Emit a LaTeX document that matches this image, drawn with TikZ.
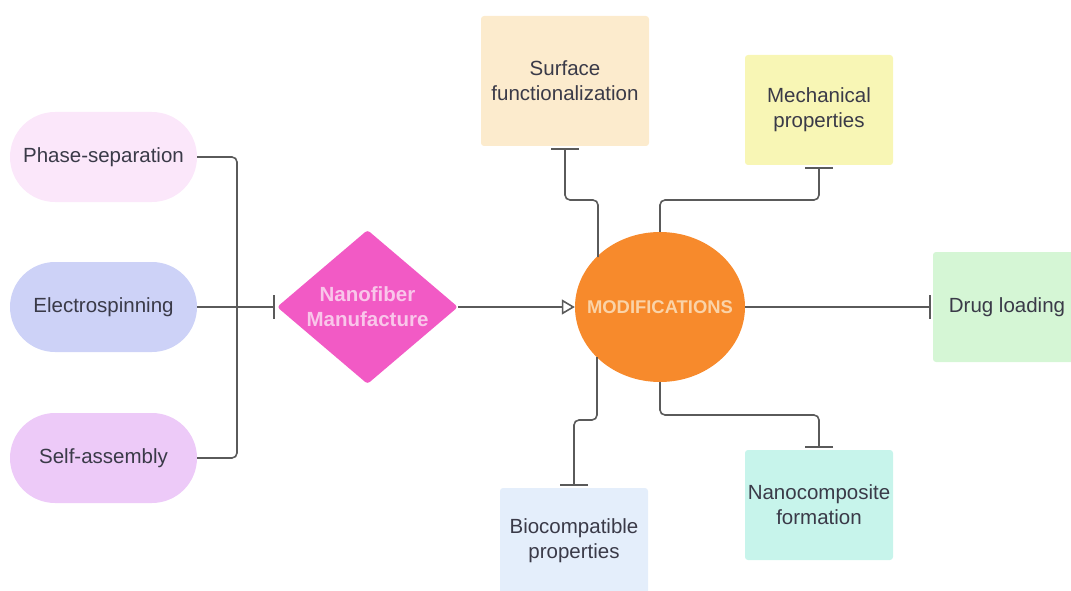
\documentclass[tikz,border=0pt]{standalone}
\usepackage{fontspec}
\setmainfont{Liberation Sans}
\usetikzlibrary{shapes.geometric,arrows.meta,calc}
\definecolor{txtc}{HTML}{3A3A48}
\definecolor{linec}{HTML}{5A5A5A}
\definecolor{pillA}{HTML}{FBE7FA}
\definecolor{pillB}{HTML}{CDD2F7}
\definecolor{pillC}{HTML}{EDCAF8}
\definecolor{pinkd}{HTML}{F25AC5}
\definecolor{pinkt}{HTML}{F9C6EA}
\definecolor{orng}{HTML}{F78A2C}
\definecolor{orngt}{HTML}{FAD3A8}
\definecolor{surfc}{HTML}{FCEBCD}
\definecolor{mechc}{HTML}{F8F6B5}
\definecolor{drugc}{HTML}{D5F6D5}
\definecolor{bioc}{HTML}{E4EEFB}
\definecolor{nanoc}{HTML}{C7F4EB}
\begin{document}
\begin{tikzpicture}[x=1pt,y=-1pt,
  txt/.style={text=txtc, font=\fontsize{20.5}{25}\selectfont, align=center},
  pill/.style={txt, rounded corners=45pt, minimum width=187pt, minimum height=90pt, inner sep=0pt},
  box/.style={txt, rounded corners=3pt, minimum width=148pt, minimum height=110pt, inner sep=0pt},
  conn/.style={draw=linec, line width=1.6pt},
  tee/.style={conn, -{Bar[width=28pt]}, shorten >=2pt},
  tri/.style={conn, -{Triangle[open, length=13pt, width=15pt]}}]
\useasboundingbox (0,0) rectangle (1071,591);

% left pills
\node[pill, fill=pillA] (p1) at (103.5,157) {Phase-separation};
\node[pill, fill=pillB] (p2) at (103.5,307) {Electrospinning};
\node[pill, fill=pillC] (p3) at (103.5,458) {Self-assembly};

% diamond
\node[diamond, fill=pinkd, aspect=1.175, minimum width=181pt, minimum height=154pt,
      inner sep=0pt, text=pinkt, font=\bfseries\fontsize{20.5}{25}\selectfont,
      align=center, rounded corners=3pt] (manu) at (367.5,307) {Nanofiber\\Manufacture};

% central ellipse
\node[ellipse, fill=orng, minimum width=170pt, minimum height=150pt, inner sep=0pt,
      text=orngt, font=\bfseries\fontsize{18.4}{22}\selectfont] (mod) at (660,307)
      {\makebox[0pt][c]{MODIFICATIONS}};

% boxes
\node[box, fill=surfc, minimum width=168pt, minimum height=130pt] (surf) at (565,81) {Surface\\functionalization};
\node[box, fill=mechc] (mech) at (819,110) {Mechanical\\properties};
\node[box, fill=drugc] (drug) at (1007,307) {Drug loading};
\node[box, fill=bioc, minimum height=106pt] (bio) at (574,541) {Biocompatible\\properties};
\node[box, fill=nanoc] (nano) at (819,505) {Nanocomposite\\formation};

% bus on the left
\coordinate (bus) at (237,307);
\draw[conn, rounded corners=5pt] (p1.east) -| (bus);
\draw[conn, rounded corners=5pt] (p3.east) -| (bus);
\draw[conn, -{Bar[width=24pt]}, shorten >=2pt] (p2.east) -- (manu.west);

% arrow into ellipse
\draw[tri] (manu.east) -- (mod.west);

% connectors from the ellipse
\coordinate (sfStart) at (598,257);
\coordinate (bioStart) at (597,357);
\draw[tee, rounded corners=5pt] (sfStart) -- (598,200) -| (surf.south);
\draw[tee, rounded corners=5pt] (mod.north) -- (660,200) -| (mech.south);
\draw[tee, -{Bar[width=24pt]}] (mod.east) -- (drug.west);
\draw[tee, rounded corners=5pt] (bioStart) -- (597,420) -| (bio.north);
\draw[tee, rounded corners=5pt] (mod.south) -- (660,415) -| (nano.north);
\end{tikzpicture}
\end{document}
